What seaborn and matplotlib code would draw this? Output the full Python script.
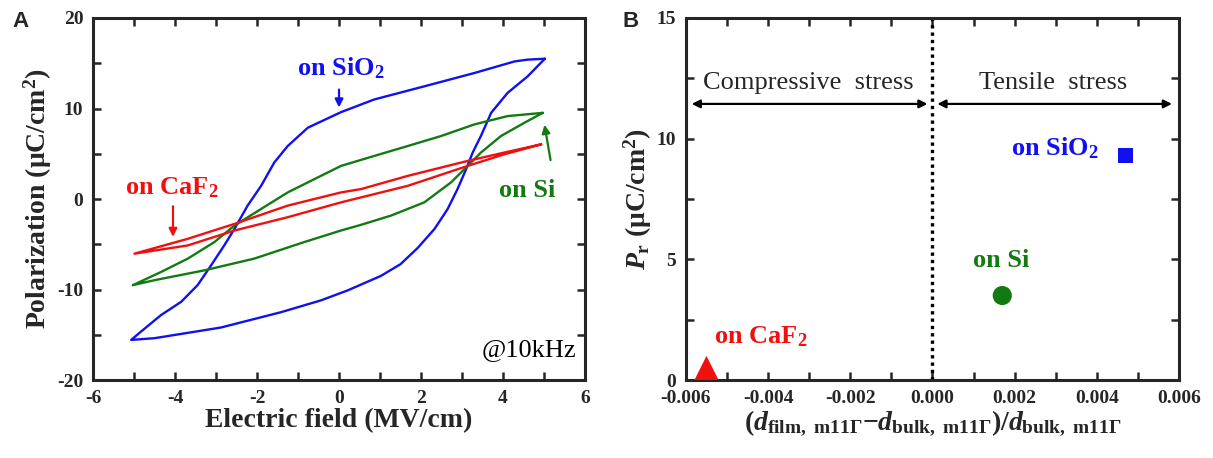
import numpy as np
import pandas as pd
import matplotlib
matplotlib.use("Agg")
import matplotlib.pyplot as plt
import seaborn as sns

# ── data ─────────────────────────────────────────────────────────────────────
# panel A : P-E hysteresis loops (upper branch right->left, then lower branch left->right)
E_sio2 = [5.02, 4.60, 4.28, 3.30, 2.08, 0.86, 0.05, -0.76, -1.25, -1.58, -1.90, -2.23,
          -2.55, -2.80, -3.12, -3.45, -3.85, -4.34, -4.83, -5.07,
          -4.50, -2.88, -1.41, -0.44, 0.21, 1.02, 1.50, 1.92, 2.33, 2.65, 2.89,
          3.10, 3.26, 3.46, 3.71, 4.11, 4.60, 5.02]
P_sio2 = [15.5, 15.4, 15.2, 13.92, 12.45, 11.0, 9.6, 7.88, 5.86, 4.03, 1.46, -0.73,
          -3.30, -5.13, -7.33, -9.52, -11.36, -12.82, -14.65, -15.57,
          -15.38, -14.2, -12.5, -11.2, -10.1, -8.5, -7.2, -5.4, -3.30, -1.10, 1.10,
          3.30, 5.13, 6.96, 9.52, 11.72, 13.55, 15.5]

E_si = [4.97, 4.11, 3.30, 2.49, 1.68, 0.86, 0.05, -0.44, -1.25, -1.90, -2.55, -3.04,
        -3.69, -4.34, -5.03,
        -4.50, -3.28, -2.07, -0.85, 0.05, 0.54, 1.27, 2.08, 2.73, 3.14, 3.46,
        3.95, 4.52, 4.97]
P_si = [9.52, 9.16, 8.24, 6.96, 5.86, 4.76, 3.66, 2.56, 0.73, -1.10, -2.93, -4.76,
        -6.59, -8.06, -9.52,
        -8.97, -7.88, -6.59, -4.76, -3.48, -2.85, -1.83, -0.37, 1.83, 3.66, 5.13,
        6.96, 8.42, 9.52]

E_caf2 = [4.93, 4.0, 3.14, 1.68, 0.54, 0.05, -1.25, -2.55, -3.69, -4.99,
          -3.69, -2.55, -1.25, 0.05, 0.54, 1.68, 3.14, 4.0, 4.93]
P_caf2 = [6.04, 5.1, 4.21, 2.56, 1.10, 0.73, -0.73, -2.75, -4.40, -6.04,
          -5.13, -3.48, -2.01, -0.37, 0.18, 1.46, 3.66, 4.9, 6.04]

# panel B : remanent polarisation vs lattice strain
substrates = ["on CaF$_2$", "on Si", "on SiO$_2$"]
strain = [-0.0055, 0.0017, 0.0047]
pr = [0.5, 3.5, 9.3]
marker_area = [300, 190, 130]

C_BLUE, C_GREEN, C_RED = "#1010f0", "#137a13", "#f01010"

# ── style ────────────────────────────────────────────────────────────────────
sns.set_style("ticks")
plt.rcParams["font.family"] = ["Liberation Serif", "DejaVu Serif"]
plt.rcParams["font.weight"] = "bold"
plt.rcParams["axes.unicode_minus"] = False
plt.rcParams["mathtext.fontset"] = "custom"
plt.rcParams["mathtext.rm"] = "Liberation Serif:bold"
plt.rcParams["mathtext.bf"] = "Liberation Serif:bold"
plt.rcParams["mathtext.it"] = "Liberation Serif:italic:bold"

fig = plt.figure(figsize=(12.13, 4.58), dpi=100)
axA = fig.add_axes([0.0767, 0.1703, 0.4056, 0.7904])
axB = fig.add_axes([0.5655, 0.1703, 0.4064, 0.7904])


def frame(ax):
    for s in ax.spines.values():
        s.set_linewidth(2.2)
        s.set_visible(True)
    ax.tick_params(which="both", direction="in", top=True, right=True,
                   labelsize=14, width=1.8, pad=7)
    ax.tick_params(which="major", length=6)
    ax.tick_params(which="minor", length=6)
    for lab in ax.get_xticklabels() + ax.get_yticklabels():
        lab.set_fontweight("bold")


# ── A : hysteresis loops ─────────────────────────────────────────────────────
for E, P, c in [(E_sio2, P_sio2, C_BLUE), (E_si, P_si, C_GREEN), (E_caf2, P_caf2, C_RED)]:
    sns.lineplot(x=E, y=P, sort=False, estimator=None, color=c, lw=1.7, ax=axA)

axA.set_xlim(-6, 6)
axA.set_ylim(-20, 20)
axA.set_xticks(np.arange(-6, 7, 2))
axA.set_xticks(np.arange(-5, 6, 1), minor=True)
axA.set_yticks(np.arange(-20, 21, 10))
axA.set_yticks(np.arange(-15, 16, 10), minor=True)
axA.set_xlabel("Electric field (MV/cm)", fontsize=20, fontweight="bold", labelpad=1)
axA.set_ylabel("Polarization (μC/cm$^2$)", fontsize=20, fontweight="bold", labelpad=2)
frame(axA)

arw = dict(arrowstyle="-|>", lw=1.6, mutation_scale=12)
axA.text(0.05, 14.5, "on SiO$_2$", color=C_BLUE, fontsize=19, ha="center", va="center")
axA.annotate("", xy=(0.0, 9.8), xytext=(0.0, 12.4), arrowprops=dict(color=C_BLUE, **arw))
axA.text(-4.07, 1.2, "on CaF$_2$", color=C_RED, fontsize=19, ha="center", va="center")
axA.annotate("", xy=(-4.05, -4.5), xytext=(-4.05, -0.5), arrowprops=dict(color=C_RED, **arw))
axA.text(4.6, 0.9, "on Si", color=C_GREEN, fontsize=19, ha="center", va="center")
axA.annotate("", xy=(5.0, 8.5), xytext=(5.17, 4.0), arrowprops=dict(color=C_GREEN, **arw))
axA.text(5.8, -16.7, "@10kHz", color="black", fontsize=19, fontweight="normal",
         ha="right", va="center")

# ── B : Pr vs strain ─────────────────────────────────────────────────────────
dfB = pd.DataFrame({"substrate": substrates, "strain": strain, "pr": pr,
                    "area": marker_area})
sns.scatterplot(data=dfB, x="strain", y="pr", hue="substrate", style="substrate",
                size="area", sizes=(min(marker_area), max(marker_area)),
                palette=[C_RED, C_GREEN, C_BLUE], markers=["^", "o", "s"],
                linewidth=0, legend=False, ax=axB, clip_on=False, zorder=5)

axB.axvline(0, color="black", ls=(0, (1, 1.2)), lw=2.4)
axB.set_xlim(-0.006, 0.006)
axB.set_ylim(0, 15)
xt = np.arange(-0.006, 0.0061, 0.002)
axB.set_xticks(xt)
axB.set_xticks(np.arange(-0.005, 0.0051, 0.002), minor=True)
axB.set_xticklabels([f"{v:.3f}".replace("-0.000", "0.000") for v in xt])
axB.set_yticks([0, 5, 10, 15])
axB.set_yticks([2.5, 7.5, 12.5], minor=True)
axB.set_xlabel(r"$(d_\mathrm{film,\ m11Γ}{-}d_\mathrm{bulk,\ m11Γ})/d_\mathrm{bulk,\ m11Γ}$",
               fontsize=20, labelpad=1)
axB.set_ylabel(r"$P_\mathrm{r}$ (μC/cm$^2$)", fontsize=20, fontweight="bold", labelpad=2)
frame(axB)

axB.text(0.00298, 9.6, "on SiO$_2$", color=C_BLUE, fontsize=19, ha="center", va="center")
axB.text(0.00167, 4.95, "on Si", color=C_GREEN, fontsize=19, ha="center", va="center")
axB.text(-0.00418, 1.8, "on CaF$_2$", color=C_RED, fontsize=19, ha="center", va="center")
axB.text(-0.00303, 12.3, "Compressive  stress", fontsize=19, fontweight="normal",
         ha="center", va="center")
axB.text(0.00293, 12.3, "Tensile  stress", fontsize=19, fontweight="normal",
         ha="center", va="center")
darw = dict(arrowstyle="<|-|>", lw=1.6, mutation_scale=12, color="black",
            shrinkA=0, shrinkB=0)
axB.annotate("", xy=(-0.00586, 11.44), xytext=(-0.00012, 11.44), arrowprops=darw)
axB.annotate("", xy=(0.00012, 11.44), xytext=(0.00583, 11.44), arrowprops=darw)

# panel letters
fig.text(0.010, 0.952, "A", family="Liberation Sans", fontsize=16, fontweight="bold",
         va="center")
fig.text(0.513, 0.952, "B", family="Liberation Sans", fontsize=16, fontweight="bold",
         va="center")

fig.savefig("out.png", dpi=100)
